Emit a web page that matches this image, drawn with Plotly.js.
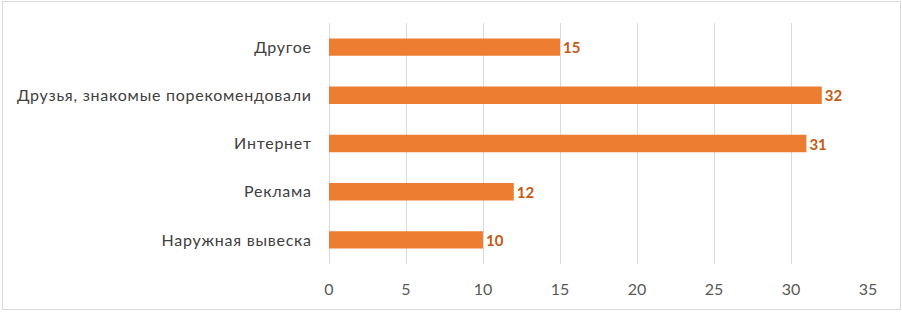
<!DOCTYPE html>
<html><head><meta charset="utf-8">
<script src="https://cdn.plot.ly/plotly-3.0.1.min.js"></script>
<style>
html,body{margin:0;padding:0;background:#fff;}
#wrap{position:relative;width:902px;height:313px;}
#frame{position:absolute;left:2px;top:1px;width:897px;height:307px;border:1px solid #d9d9d9;pointer-events:none;}
#chart{position:absolute;left:0;top:0;width:902px;height:313px;}
#chart .ytick text{letter-spacing:0.75px;}
</style>
</head><body>
<div id="wrap"><div id="chart"></div><div id="frame"></div></div>
<script>
const categories = ["Наружная вывеска", "Реклама", "Интернет", "Друзья, знакомые порекомендовали", "Другое"];
const values = [10, 12, 31, 32, 15];
const xTicks = [0, 5, 10, 15, 20, 25, 30, 35];

const font = "Lato, 'Open Sans', 'Liberation Sans', sans-serif";
Plotly.newPlot('chart', [{
  type: 'bar', orientation: 'h',
  y: categories, x: values,
  marker: {color: '#ED7D31'},
  text: values.map(String), textposition: 'outside',
  constraintext: 'none',
  textfont: {family: font, size: 15, color: '#C55A11', weight: 'bold'},
  cliponaxis: false,
  hoverinfo: 'none'
}], {
  width: 902, height: 313,
  margin: {l: 329, r: 34, t: 23, b: 49, pad: 0},
  paper_bgcolor: '#fff', plot_bgcolor: '#fff',
  bargap: 0.64,
  showlegend: false,
  font: {family: font, size: 16, color: '#595959'},
  xaxis: {
    range: [0, 35], tickvals: xTicks, ticktext: xTicks.map(String),
    showgrid: true, gridcolor: '#d9d9d9', gridwidth: 1,
    zeroline: true, zerolinecolor: '#d9d9d9', zerolinewidth: 1,
    showline: false, ticks: 'outside', ticklen: 11, tickcolor: 'rgba(0,0,0,0)',
    tickfont: {family: font, size: 16, color: '#595959'}, fixedrange: true
  },
  yaxis: {
    categoryorder: 'array', categoryarray: categories,
    showgrid: false, zeroline: false, showline: false,
    ticks: 'outside', ticklen: 13, tickcolor: 'rgba(0,0,0,0)',
    tickfont: {family: font, size: 16, color: '#404040'}, fixedrange: true
  }
}, {displayModeBar: false, staticPlot: true});
</script>
</body></html>
